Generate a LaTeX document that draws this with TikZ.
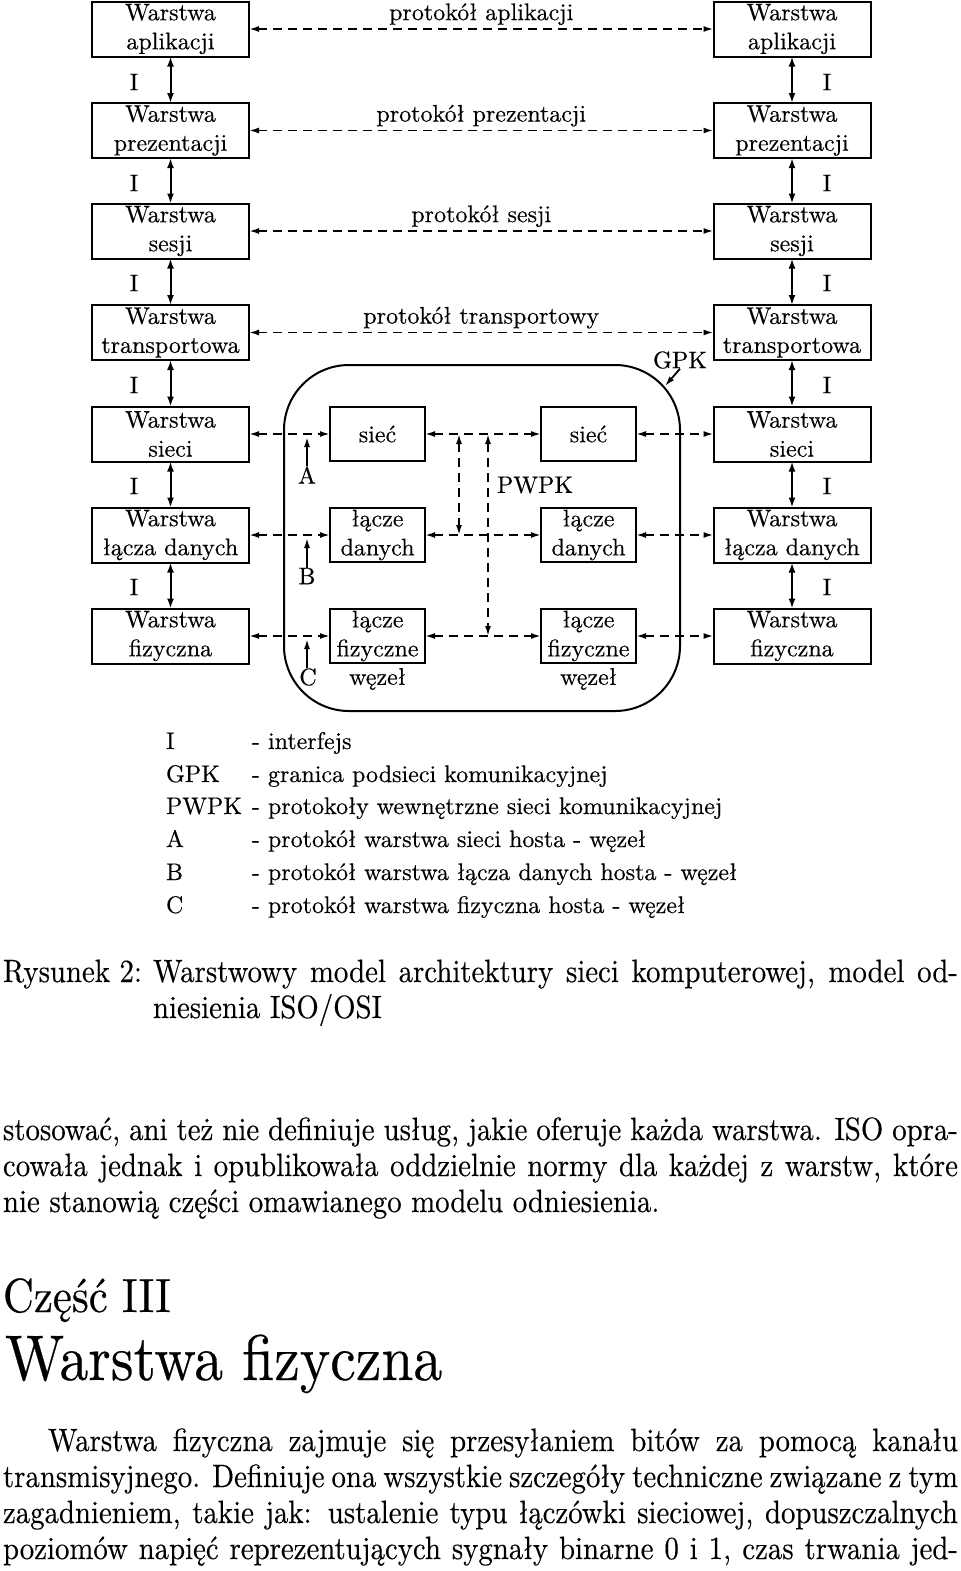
\documentclass[tikz,border=0pt]{standalone}
\usepackage{fontspec}
\usepackage{graphicx}
\setmainfont{lmroman10-regular.otf}[FakeBold=0.35]
\usetikzlibrary{arrows.meta}
\newcommand{\fsz}[2]{\fontsize{#1}{#2}\selectfont}
\newcommand{\vst}[1]{\scalebox{1}[1.12]{#1}}
\begin{document}
\begin{tikzpicture}[x=0.5pt,y=-0.5pt,
  every node/.style={inner sep=0pt, outer sep=0pt},
  layer/.style={draw, line width=1pt, minimum width=78.5pt, minimum height=27.5pt, align=center, font=\fsz{12}{14.5}},
  innerbox/.style={draw, line width=1pt, minimum width=47.5pt, minimum height=27pt, align=center, font=\fsz{12}{14.5}},
  lbl/.style={font=\fsz{12}{14.5}},
  iface/.style={line width=1pt, {Latex[length=5pt,width=3.5pt]}-{Latex[length=5pt,width=3.5pt]}},
  proto/.style={line width=0.9pt, dash pattern=on 4.5pt off 3pt, {Latex[length=5pt,width=3pt]}-{Latex[length=5pt,width=3pt]}},
  uparrow/.style={line width=0.9pt, -{Latex[length=5pt,width=3pt]}},
  body/.style={anchor=base west, font=\fsz{14.4}{18}},
  legend/.style={anchor=base west, font=\fsz{12}{14.5}}
]
\useasboundingbox (0,0) rectangle (960,1571);
\fill[white] (0,0) rectangle (960,1571);

% host stacks
\node[layer] (L1) at (170.5,29) {Warstwa\\aplikacji};
\node[layer] (L2) at (170.5,130.5) {Warstwa\\prezentacji};
\node[layer] (L3) at (170.5,231) {Warstwa\\sesji};
\node[layer] (L4) at (170.5,332.5) {Warstwa\\transportowa};
\node[layer] (L5) at (170.5,434) {Warstwa\\sieci};
\node[layer] (L6) at (170.5,535) {Warstwa\\łącza danych};
\node[layer] (L7) at (170.5,636) {Warstwa\\fizyczna};

\node[layer] (R1) at (792,29) {Warstwa\\aplikacji};
\node[layer] (R2) at (792,130.5) {Warstwa\\prezentacji};
\node[layer] (R3) at (792,231) {Warstwa\\sesji};
\node[layer] (R4) at (792,332.5) {Warstwa\\transportowa};
\node[layer] (R5) at (792,434) {Warstwa\\sieci};
\node[layer] (R6) at (792,535) {Warstwa\\łącza danych};
\node[layer] (R7) at (792,636) {Warstwa\\fizyczna};

% interfaces
\foreach \a/\b/\y in {1/2/82,2/3/183,3/4/283,4/5/385,5/6/486,6/7/587}{
  \draw[iface] (L\a) -- (L\b);
  \draw[iface] (R\a) -- (R\b);
  \node[lbl] (IL\a) at (134,\y) {I};
  \node[lbl] (IR\a) at (827,\y) {I};
}

% peer protocols
\draw[proto] (L1) -- node[lbl, above=2pt] (p1) {protokół aplikacji} (R1);
\draw[proto] (L2) -- node[lbl, above=2pt] (p2) {protokół prezentacji} (R2);
\draw[proto] (L3) -- node[lbl, above=2pt] (p3) {protokół sesji} (R3);
\draw[proto] (L4) -- node[lbl, above=2pt] (p4) {protokół transportowy} (R4);

% communication subnet
\node[draw, line width=1pt, rounded corners=32.5pt, minimum width=198pt, minimum height=173pt] (gpkbox) at (482,538) {};
\node[innerbox] (NL1) at (377.5,434) {sieć};
\node[innerbox] (NL2) at (377.5,535) {łącze\\danych};
\node[innerbox] (NL3) at (377.5,636) {łącze\\fizyczne};
\node[innerbox] (NR1) at (588.5,434) {sieć};
\node[innerbox] (NR2) at (588.5,535) {łącze\\danych};
\node[innerbox] (NR3) at (588.5,636) {łącze\\fizyczne};
\node[lbl] (wl) at (377.5,679) {węzeł};
\node[lbl] (wr) at (588.5,679) {węzeł};

\draw[proto] (L5) -- (NL1);
\draw[proto] (L6) -- (NL2);
\draw[proto] (L7) -- (NL3);
\draw[proto] (NL1) -- (NR1);
\draw[proto] (NL2) -- (NR2);
\draw[proto] (NL3) -- (NR3);
\draw[proto] (NR1) -- (R5);
\draw[proto] (NR2) -- (R6);
\draw[proto] (NR3) -- (R7);

\coordinate (va1) at (459,434);
\coordinate (vb1) at (459,535);
\coordinate (va2) at (488,434);
\coordinate (vb2) at (488,636);
\draw[proto] (va1) -- (vb1);
\draw[proto] (va2) -- (vb2);
\node[lbl] (pwpk) at (535,485) {PWPK};

\node[lbl] (A) at (307,475) {A};
\node[lbl] (B) at (307,576) {B};
\node[lbl] (C) at (308,677) {C};
\coordinate (At) at (307,437);
\coordinate (Bt) at (307,538);
\coordinate (Ct) at (307,639);
\draw[uparrow] (A) -- (At);
\draw[uparrow] (B) -- (Bt);
\draw[uparrow] (C.north -| Ct) -- (Ct);

\node[lbl] (gpk) at (680,360) {GPK};
\coordinate (gpkt) at (665,386);
\draw[uparrow] (gpk.south) -- (gpkt);

% legend
\node[legend] (k1) at (166,749) {I};
\node[legend] (k2) at (166,782) {GPK};
\node[legend] (k3) at (166,814) {PWPK};
\node[legend] (k4) at (166,847) {A};
\node[legend] (k5) at (166,880) {B};
\node[legend] (k6) at (166,913) {C};
\node[legend] (d1) at (252,749) {- interfejs};
\node[legend] (d2) at (252,782) {- granica podsieci komunikacyjnej};
\node[legend] (d3) at (252,814) {- protokoły wewnętrzne sieci komunikacyjnej};
\node[legend] (d4) at (252,847) {- protokół warstwa sieci hosta - węzeł};
\node[legend] (d5) at (252,880) {- protokół warstwa łącza danych hosta - węzeł};
\node[legend] (d6) at (252,913) {- protokół warstwa fizyczna hosta - węzeł};

% caption and page text
\node[body] (cap0) at (3,982) {\vst{Rysunek 2:}};
\node[body] (cap1) at (153,982) {\vst{\makebox[402.5pt][s]{Warstwowy model architektury sieci komputerowej, model od-}}};
\node[body] (cap2) at (153,1018) {\vst{niesienia ISO/OSI}};
\node[body] (t1) at (3,1140) {\vst{\makebox[477.5pt][s]{stosować, ani też nie definiuje usług, jakie oferuje każda warstwa. ISO opra-}}};
\node[body] (t2) at (3,1176) {\vst{\makebox[477.5pt][s]{cowała jednak i opublikowała oddzielnie normy dla każdej z warstw, które}}};
\node[body] (t3) at (3,1212) {\vst{nie stanowią części omawianego modelu odniesienia.}};
\node[anchor=base west, font=\fsz{21.4}{26}] (part) at (3,1312) {\vst{Część III}};
\node[anchor=base west, font=\fsz{28.8}{34}] (title) at (5,1380) {\vst{Warstwa fizyczna}};
\node[body] (q1) at (48,1451) {\vst{\makebox[455pt][s]{Warstwa fizyczna zajmuje się przesyłaniem bitów za pomocą kanału}}};
\node[body] (q2) at (3,1487) {\vst{\makebox[477.5pt][s]{transmisyjnego. Definiuje ona wszystkie szczegóły techniczne związane z tym}}};
\node[body] (q3) at (3,1523) {\vst{\makebox[477.5pt][s]{zagadnieniem, takie jak: ustalenie typu łączówki sieciowej, dopuszczalnych}}};
\node[body] (q4) at (3,1559) {\vst{\makebox[477.5pt][s]{poziomów napięć reprezentujących sygnały binarne 0 i 1, czas trwania jed-}}};
\end{tikzpicture}
\end{document}
